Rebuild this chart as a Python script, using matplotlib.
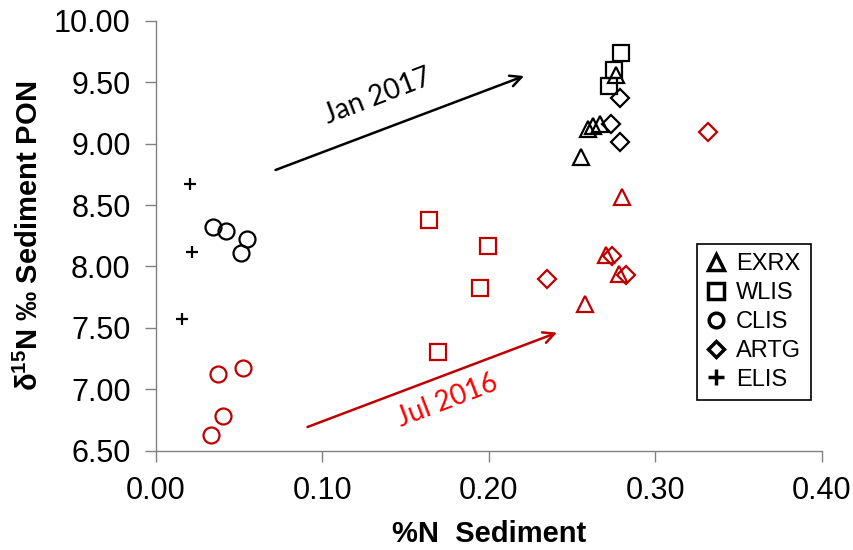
import matplotlib
matplotlib.use("Agg")
import matplotlib.pyplot as plt
from matplotlib.lines import Line2D

plt.rcParams['font.family'] = ['Liberation Sans', 'DejaVu Sans']
plt.rcParams['mathtext.fontset'] = 'custom'
plt.rcParams['mathtext.rm'] = 'Liberation Sans'
plt.rcParams['mathtext.bf'] = 'Liberation Sans:bold'

# Jan 2017 (black)
jan_exrx_x = [0.2766, 0.2595, 0.2625, 0.2666, 0.2556]
jan_exrx_y = [9.56, 9.12, 9.14, 9.16, 8.89]
jan_wlis_x = [0.2792, 0.2752, 0.2722]
jan_wlis_y = [9.735, 9.60, 9.47]
jan_clis_x = [0.0346, 0.0422, 0.0550, 0.0510]
jan_clis_y = [8.323, 8.288, 8.226, 8.110]
jan_artg_x = [0.2786, 0.2732, 0.2786]
jan_artg_y = [9.37, 9.16, 9.01]
jan_elis_x = [0.0206, 0.0220, 0.0156]
jan_elis_y = [8.668, 8.115, 7.570]

# Jul 2016 (red)
jul_exrx_x = [0.2802, 0.2580, 0.2706, 0.2782]
jul_exrx_y = [8.568, 7.694, 8.093, 7.936]
jul_wlis_x = [0.1640, 0.1996, 0.1950, 0.1696]
jul_wlis_y = [8.378, 8.166, 7.822, 7.306]
jul_clis_x = [0.0376, 0.0526, 0.0402, 0.0332]
jul_clis_y = [7.124, 7.171, 6.785, 6.628]
jul_artg_x = [0.3316, 0.2352, 0.2742, 0.2826]
jul_artg_y = [9.097, 7.898, 8.085, 7.930]

sites = ['EXRX', 'WLIS', 'CLIS', 'ARTG', 'ELIS']
markers = {'EXRX': '^', 'WLIS': 's', 'CLIS': 'o', 'ARTG': 'D', 'ELIS': '+'}
sizes = {'EXRX': 12, 'WLIS': 12, 'CLIS': 11.5, 'ARTG': 8.8, 'ELIS': 8}

red = '#C00000'

fig = plt.figure(figsize=(8.54, 5.5), dpi=100)
ax = fig.add_axes([0.1823, 0.1805, 0.7799, 0.7818])

jan = {'EXRX': (jan_exrx_x, jan_exrx_y), 'WLIS': (jan_wlis_x, jan_wlis_y),
       'CLIS': (jan_clis_x, jan_clis_y), 'ARTG': (jan_artg_x, jan_artg_y),
       'ELIS': (jan_elis_x, jan_elis_y)}
jul = {'EXRX': (jul_exrx_x, jul_exrx_y), 'WLIS': (jul_wlis_x, jul_wlis_y),
       'CLIS': (jul_clis_x, jul_clis_y), 'ARTG': (jul_artg_x, jul_artg_y)}

for s, (x, y) in jul.items():
    ax.plot(x, y, ls='none', marker=markers[s], ms=sizes[s], mfc='none',
            mec=red, mew=1.6)
for s, (x, y) in jan.items():
    ax.plot(x, y, ls='none', marker=markers[s], ms=sizes[s], mfc='none',
            mec='black', mew=1.6)

# arrows and labels
ax.annotate('', xy=(0.2228, 9.558), xytext=(0.0704, 8.777),
            arrowprops=dict(arrowstyle='->,head_length=0.8,head_width=0.4',
                            color='black', lw=1.8))
ax.text(0.1334, 9.385, 'Jan 2017', rotation=21, ha='center', va='center',
        fontsize=20, family=['Lato', 'DejaVu Sans'], color='black')
ax.annotate('', xy=(0.2426, 7.469), xytext=(0.0896, 6.685),
            arrowprops=dict(arrowstyle='->,head_length=0.8,head_width=0.4',
                            color=red, lw=1.8))
ax.text(0.1754, 6.905, 'Jul 2016', rotation=21, ha='center', va='center',
        fontsize=20, family=['Lato', 'DejaVu Sans'], color='#FF0000')

ax.set_xlim(0, 0.4)
ax.set_ylim(6.5, 10.0)
ax.set_xticks([0, 0.1, 0.2, 0.3, 0.4])
ax.set_yticks([6.5, 7.0, 7.5, 8.0, 8.5, 9.0, 9.5, 10.0])
ax.xaxis.set_major_formatter(matplotlib.ticker.FormatStrFormatter('%.2f'))
ax.yaxis.set_major_formatter(matplotlib.ticker.FormatStrFormatter('%.2f'))
ax.tick_params(direction='out', length=8, width=1, color='#808080',
               labelsize=22, pad=10)
for side in ['top', 'right']:
    ax.spines[side].set_visible(False)
for side in ['left', 'bottom']:
    ax.spines[side].set_color('#808080')
    ax.spines[side].set_linewidth(1)

ax.set_xlabel('%N  Sediment', fontsize=21, fontweight='bold')
ax.set_ylabel(r'δ$^{\mathbf{15}}$N ‰ Sediment PON', fontsize=21, fontweight='bold')
ax.xaxis.set_label_coords(0.5, -0.16)
ax.yaxis.set_label_coords(-0.168, 0.5)

leg_sizes = {'EXRX': 11, 'WLIS': 11, 'CLIS': 10.5, 'ARTG': 8.5, 'ELIS': 12}
handles = [Line2D([], [], ls='none', marker=markers[s], ms=leg_sizes[s],
                  mfc='none', mec='black', mew=2.5) for s in sites]
leg = ax.legend(handles, sites, loc='upper left', bbox_to_anchor=(0.813, 0.481),
                borderaxespad=0, fancybox=False, edgecolor='black', fontsize=17,
                handlelength=0.8, handletextpad=0.45, labelspacing=0.29,
                borderpad=0.4, framealpha=1)
leg.get_frame().set_linewidth(1.2)

fig.savefig('out.png', dpi=100)
